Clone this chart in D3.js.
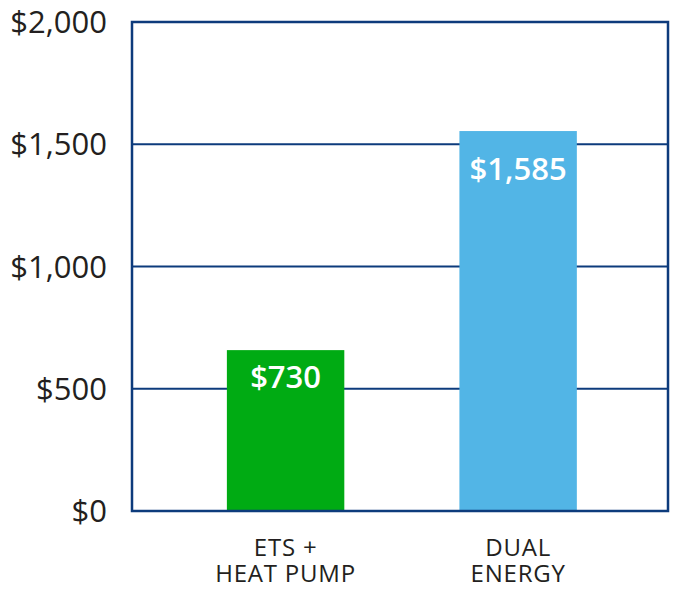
<!DOCTYPE html>
<html>
<head>
<meta charset="utf-8">
<script src="https://cdn.jsdelivr.net/npm/d3@7"></script>
<style>
  body { margin: 0; background: #fff; }
  svg { display: block; font-family: 'Open Sans', sans-serif; }
</style>
</head>
<body>
<svg id="chart" width="678" height="592"></svg>
<script>
// chart data
const categories = [['ETS +', 'HEAT PUMP'], ['DUAL', 'ENERGY']];
const values = [658, 1554];
const valueLabels = ['$730', '$1,585'];
const barColors = ['#00ab13', '#52b5e6'];
const yTicks = [0, 500, 1000, 1500, 2000];

const MARGIN = { top: 22, right: 10, bottom: 81, left: 132 };
const W = 678, H = 592;
const width = W - MARGIN.left - MARGIN.right;
const height = H - MARGIN.top - MARGIN.bottom;
const NAVY = '#0d3b7c';
const TEXT = '#231f20';
const LABEL_DY = [38, 49];

const svg = d3.select('#chart');
const g = svg.append('g').attr('transform', `translate(${MARGIN.left},${MARGIN.top})`);

const y = d3.scaleLinear().domain([0, 2000]).range([height, 0]);
const x = d3.scaleBand()
  .domain(d3.range(categories.length))
  .range([0, width])
  .paddingInner(0.495)
  .paddingOuter(0.4)
  .align(0.51);
const cx = i => x(i) + x.bandwidth() / 2;

// gridlines
g.append('g')
  .selectAll('line')
  .data(yTicks.slice(1, -1))
  .join('line')
  .attr('x1', 0).attr('x2', width)
  .attr('y1', d => y(d)).attr('y2', d => y(d))
  .attr('stroke', NAVY).attr('stroke-width', 2);

// bars
const bars = g.append('g')
  .selectAll('g')
  .data(values)
  .join('g');

bars.append('rect')
  .attr('x', (d, i) => x(i))
  .attr('width', x.bandwidth())
  .attr('y', d => y(d))
  .attr('height', d => height - y(d))
  .attr('fill', (d, i) => barColors[i]);

bars.append('text')
  .attr('x', (d, i) => cx(i))
  .attr('y', (d, i) => y(d) + LABEL_DY[i])
  .attr('text-anchor', 'middle')
  .attr('fill', '#fff')
  .attr('font-size', 31)
  .attr('font-weight', 600)
  .text((d, i) => valueLabels[i]);

// frame
g.append('rect')
  .attr('x', 0).attr('y', 0)
  .attr('width', width).attr('height', height)
  .attr('fill', 'none')
  .attr('stroke', NAVY).attr('stroke-width', 2.5);

// y axis labels
const fmt = d3.format('$,');
g.append('g')
  .selectAll('text')
  .data(yTicks)
  .join('text')
  .attr('x', -25)
  .attr('y', d => y(d))
  .attr('dy', '0.36em')
  .attr('text-anchor', 'end')
  .attr('font-size', 31)
  .attr('fill', TEXT)
  .text(d => fmt(d));

// category labels
const cat = g.append('g')
  .selectAll('text')
  .data(categories)
  .join('text')
  .attr('text-anchor', 'middle')
  .attr('font-size', 24)
  .attr('letter-spacing', 0.8)
  .attr('fill', TEXT);

cat.selectAll('tspan')
  .data((d, i) => d.map(t => ({ t, i })))
  .join('tspan')
  .attr('x', d => cx(d.i))
  .attr('y', (d, j) => height + 45 + j * 26)
  .text(d => d.t);
</script>
</body>
</html>
